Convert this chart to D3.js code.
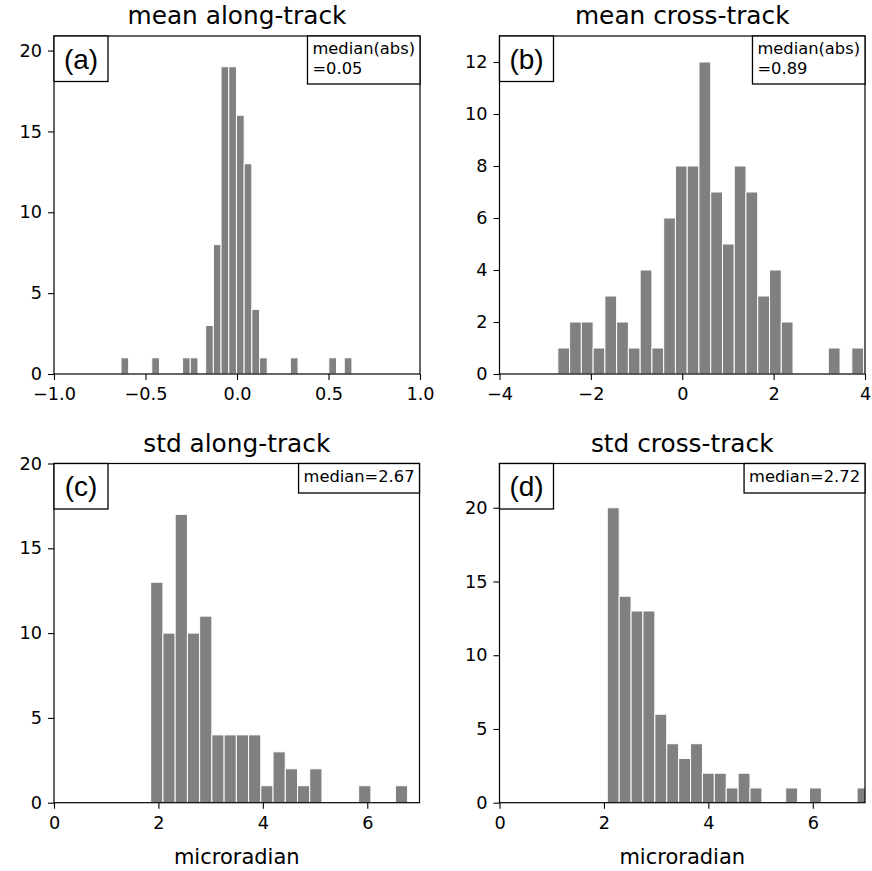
<!DOCTYPE html>
<html>
<head>
<meta charset="utf-8">
<script src="https://cdn.jsdelivr.net/npm/d3@7"></script>
<style>
  body { margin: 0; background: #fff; }
  svg { display: block; }
  text { font-family: "DejaVu Sans", sans-serif; fill: #000; }
</style>
</head>
<body>
<svg id="fig" width="872" height="871"></svg>
<script>
// Histogram counts per bin, with the range covered by the bins
const meanAlongCounts = [1,0,0,0,1,0,0,0,1,1,0,3,8,19,19,16,13,4,1,0,0,0,1,0,0,0,0,1,0,1];
const meanAlongRange  = [-0.634, 0.628];
const meanCrossCounts = [1,2,2,1,3,2,1,4,1,6,8,8,12,7,5,8,7,3,4,2,0,0,0,1,0,1];
const meanCrossRange  = [-2.723, 3.969];
const stdAlongCounts  = [13,10,17,10,11,4,4,4,4,1,3,2,1,2,0,0,0,1,0,0,1];
const stdAlongRange   = [1.852, 6.772];
const stdCrossCounts  = [20,14,13,13,6,4,3,4,2,2,1,2,1,0,0,1,0,1,0,0,0,1];
const stdCrossRange   = [2.064, 7.076];

const titles      = ["mean along-track", "mean cross-track", "std along-track", "std cross-track"];
const panelTags   = ["(a)", "(b)", "(c)", "(d)"];
const medianNotes = [["median(abs)", "=0.05"], ["median(abs)", "=0.89"], ["median=2.67"], ["median=2.72"]];
const xDomains    = [[-1, 1], [-4, 4], [0, 7], [0, 7]];
const yDomains    = [[0, 20.9], [0, 13], [0, 20], [0, 23]];
const xTickValues = [[-1, -0.5, 0, 0.5, 1], [-4, -2, 0, 2, 4], [0, 2, 4, 6], [0, 2, 4, 6]];
const yTickValues = [[0, 5, 10, 15, 20], [0, 2, 4, 6, 8, 10, 12], [0, 5, 10, 15, 20], [0, 5, 10, 15, 20]];
const xTickFormats = [".1f", "d", "d", "d"];
const xLabel = "microradian";

const countsList = [meanAlongCounts, meanCrossCounts, stdAlongCounts, stdCrossCounts];
const rangeList  = [meanAlongRange, meanCrossRange, stdAlongRange, stdCrossRange];

// Axes rectangles in the figure (pixels)
const frames = [
  { x0: 54,    x1: 420,   y0: 36,    y1: 374 },
  { x0: 499.5, x1: 865,   y0: 36,    y1: 374 },
  { x0: 54,    x1: 419.5, y0: 463.5, y1: 802.7 },
  { x0: 499.5, x1: 865,   y0: 463.5, y1: 802.7 }
];

const svg = d3.select("#fig");
const TICK_FONT = 17.7;

frames.forEach((f, i) => {
  const counts = countsList[i];
  const [lo, hi] = rangeList[i];
  const edges = d3.range(counts.length + 1).map(k => lo + (hi - lo) * k / counts.length);
  const bins = counts.map((c, k) => ({ x0: edges[k], x1: edges[k + 1], n: c }));

  const x = d3.scaleLinear().domain(xDomains[i]).range([f.x0, f.x1]);
  const y = d3.scaleLinear().domain(yDomains[i]).range([f.y1, f.y0]);

  const g = svg.append("g");

  const clipId = "clip" + i;
  svg.append("clipPath").attr("id", clipId)
    .append("rect")
    .attr("x", f.x0).attr("y", f.y0)
    .attr("width", f.x1 - f.x0).attr("height", f.y1 - f.y0);

  // bars
  g.append("g").attr("clip-path", `url(#${clipId})`)
    .selectAll("rect")
    .data(bins.filter(b => b.n > 0))
    .join("rect")
    .attr("x", b => x(b.x0))
    .attr("y", b => y(b.n))
    .attr("width", b => x(b.x1) - x(b.x0))
    .attr("height", b => y(0) - y(b.n))
    .attr("fill", "#808080")
    .attr("stroke", "#ffffff")
    .attr("stroke-width", 1);

  // axes
  const xAxis = d3.axisBottom(x)
    .tickValues(xTickValues[i])
    .tickFormat(d3.format(xTickFormats[i]))
    .tickSize(6).tickSizeOuter(0).tickPadding(7.5);
  const yAxis = d3.axisLeft(y)
    .tickValues(yTickValues[i])
    .tickFormat(d3.format("d"))
    .tickSize(6).tickSizeOuter(0).tickPadding(6);

  const gx = g.append("g").attr("transform", `translate(0,${f.y1})`).call(xAxis);
  const gy = g.append("g").attr("transform", `translate(${f.x0},0)`).call(yAxis);
  [gx, gy].forEach(ax => {
    ax.select(".domain").remove();
    ax.selectAll(".tick line").attr("stroke", "#000").attr("stroke-width", 1.1);
    ax.selectAll(".tick text")
      .attr("fill", "#000")
      .style("font-family", '"DejaVu Sans", sans-serif')
      .style("font-size", TICK_FONT + "px");
  });

  // frame
  g.append("rect")
    .attr("x", f.x0).attr("y", f.y0)
    .attr("width", f.x1 - f.x0).attr("height", f.y1 - f.y0)
    .attr("fill", "none").attr("stroke", "#000").attr("stroke-width", 1.2);

  // title
  g.append("text")
    .attr("x", (f.x0 + f.x1) / 2).attr("y", f.y0 - 12)
    .attr("text-anchor", "middle")
    .style("font-size", "24.8px")
    .text(titles[i]);

  // panel tag in the upper-left corner
  const tagW = 54, tagH = 45.5;
  g.append("rect")
    .attr("x", f.x0).attr("y", f.y0)
    .attr("width", tagW).attr("height", tagH)
    .attr("fill", "#fff").attr("stroke", "#000").attr("stroke-width", 1.3);
  g.append("text")
    .attr("x", f.x0 + tagW / 2).attr("y", f.y0 + 32.5)
    .attr("text-anchor", "middle")
    .style("font-family", '"Liberation Sans", Arial, sans-serif')
    .style("font-size", "28px")
    .text(panelTags[i]);

  // median note in the upper-right corner
  const lines = medianNotes[i];
  const noteFont = 16.3, lineH = 20, padX = 5, padTop = 18;
  const noteG = g.append("g");
  const box = noteG.append("rect")
    .attr("fill", "#fff").attr("stroke", "#000").attr("stroke-width", 1.3);
  const noteTexts = noteG.selectAll("text")
    .data(lines)
    .join("text")
    .style("font-size", noteFont + "px")
    .attr("y", (d, k) => f.y0 + padTop + k * lineH)
    .text(d => d);
  const maxW = d3.max(noteTexts.nodes(), n => n.getComputedTextLength());
  const boxW = maxW + 2 * padX;
  const boxH = lines.length === 2 ? 48 : 29.5;
  noteTexts.attr("x", f.x1 - boxW + padX);
  box.attr("x", f.x1 - boxW).attr("y", f.y0).attr("width", boxW).attr("height", boxH);

  // x label on the bottom row
  if (i >= 2) {
    g.append("text")
      .attr("x", (f.x0 + f.x1) / 2).attr("y", 864)
      .attr("text-anchor", "middle")
      .style("font-size", "21px")
      .text(xLabel);
  }
});
</script>
</body>
</html>
